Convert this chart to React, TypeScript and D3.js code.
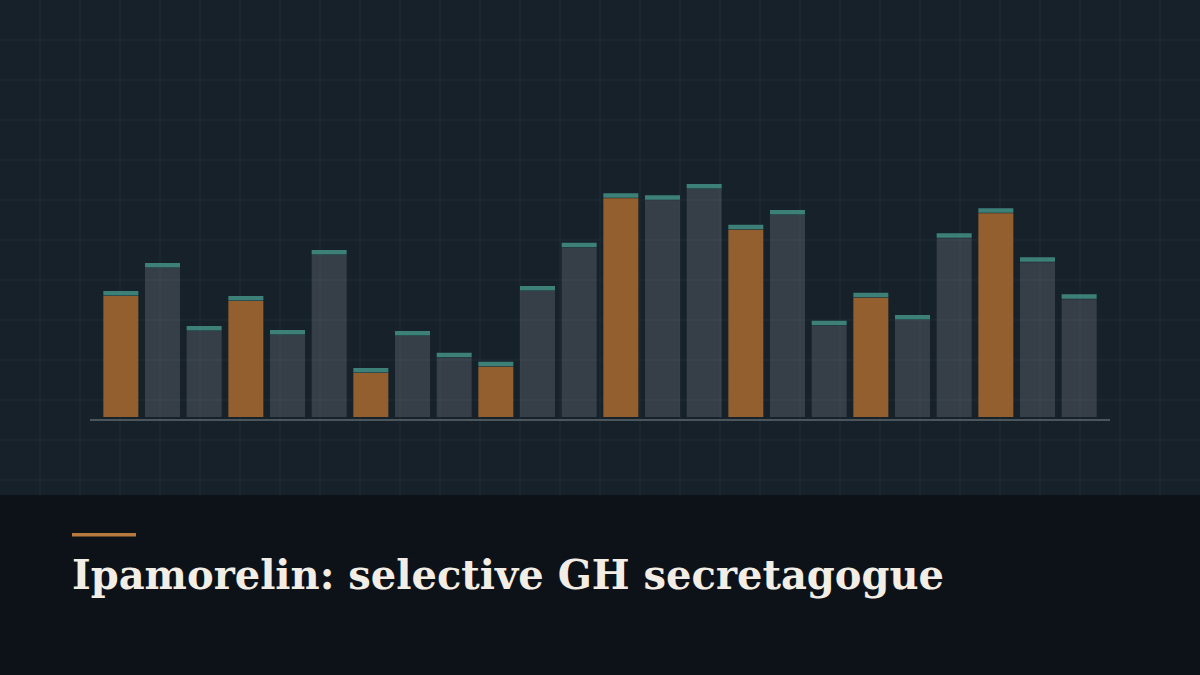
import { useEffect, useRef } from "react";
import * as d3 from "d3";

// ── Data ─────────────────────────────────────────────────────────────────────
const CATEGORIES = d3.range(1, 25).map(i => `B${i}`);
const VALUES = [
  50.4, 61.6, 36.4, 48.4, 34.8, 66.8, 19.6, 34.4, 25.7, 22.1, 52.4, 69.7,
  89.5, 88.7, 93.2, 76.9, 82.8, 38.5, 49.7, 40.8, 73.5, 83.5, 63.9, 49.1,
];
const HIGHLIGHT = VALUES.map((_, i) => i % 3 === 0);
const TITLE = "Ipamorelin: selective GH secretagogue";

// ── Colours ──────────────────────────────────────────────────────────────────
const C_BG     = "#16212a";
const C_PANEL  = "#0d1218";
const C_GRID   = "#1d2a33";
const C_ORANGE = "#935f2f";
const C_GRAY   = "#6b7278";
const C_CAP    = "#3d8078";
const C_AXIS   = "#4b555c";
const C_ACCENT = "#b67a3e";
const C_TITLE  = "#f3eee5";

const W = 1200;
const H = 675;

export default function App() {
  const svgRef = useRef<SVGSVGElement>(null);

  useEffect(() => {
    const svg = d3.select(svgRef.current);
    svg.selectAll("*").remove();

    // ── Background ────────────────────────────────────────────────────────
    svg.append("rect").attr("width", W).attr("height", H).attr("fill", C_BG);

    const grid = svg.append("g").attr("stroke", C_GRID).attr("stroke-width", 1.5);
    d3.range(40, W, 40).forEach(x => {
      grid.append("line").attr("x1", x).attr("x2", x).attr("y1", 0).attr("y2", H);
    });
    d3.range(40, H, 40).forEach(y => {
      grid.append("line").attr("x1", 0).attr("x2", W).attr("y1", y).attr("y2", y);
    });

    // ── Scales ────────────────────────────────────────────────────────────
    const x = d3.scaleBand<string>().domain(CATEGORIES)
      .range([100, 1100]).paddingInner(0.16).paddingOuter(0.08);
    const baseY = 417;
    const y = d3.scaleLinear().domain([0, 100]).range([baseY, 167]);

    // ── Bars ──────────────────────────────────────────────────────────────
    const capH = 4.5;
    const bars = svg.append("g");
    VALUES.forEach((v, i) => {
      const bx = x(CATEGORIES[i])!;
      const bw = x.bandwidth();
      const top = y(v);
      bars.append("rect")
        .attr("x", bx).attr("y", top + capH + 0.5)
        .attr("width", bw).attr("height", baseY - top - capH - 0.5)
        .attr("fill", HIGHLIGHT[i] ? C_ORANGE : C_GRAY)
        .attr("fill-opacity", HIGHLIGHT[i] ? 1 : 0.38);
      bars.append("rect")
        .attr("x", bx).attr("y", top)
        .attr("width", bw).attr("height", capH)
        .attr("fill", C_CAP);
    });

    // ── Baseline ──────────────────────────────────────────────────────────
    svg.append("line")
      .attr("x1", 90).attr("x2", 1110).attr("y1", 420).attr("y2", 420)
      .attr("stroke", C_AXIS).attr("stroke-width", 2);

    // ── Bottom panel ──────────────────────────────────────────────────────
    svg.append("rect")
      .attr("x", 0).attr("y", 495).attr("width", W).attr("height", H - 495)
      .attr("fill", C_PANEL).attr("fill-opacity", 0.95);

    svg.append("rect")
      .attr("x", 72).attr("y", 533).attr("width", 64).attr("height", 3.5)
      .attr("fill", C_ACCENT);

    svg.append("text")
      .attr("x", 72).attr("y", 589)
      .attr("font-family", "'DejaVu Serif', 'Liberation Serif', serif")
      .attr("font-weight", 700).attr("font-size", 41)
      .attr("textLength", 872).attr("lengthAdjust", "spacingAndGlyphs")
      .attr("fill", C_TITLE)
      .text(TITLE);
  }, []);

  return (
    <div style={{ position: "fixed", left: 0, top: 0, width: W, height: H }}>
      <svg ref={svgRef} width={W} height={H} style={{ display: "block" }} />
    </div>
  );
}
